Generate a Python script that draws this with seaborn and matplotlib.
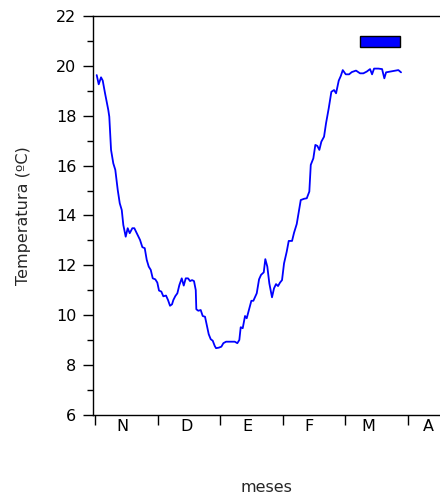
import pandas as pd
import numpy as np
import seaborn as sns
import matplotlib.pyplot as plt
from matplotlib.patches import Patch

# posición en meses desde el 1 de noviembre
mes = [0.027, 0.059, 0.096, 0.123, 0.160, 0.212, 0.228, 0.256, 0.292, 0.324,
       0.363, 0.395, 0.427, 0.452, 0.490, 0.522, 0.554, 0.596, 0.628, 0.666,
       0.719, 0.756, 0.794, 0.826, 0.858, 0.890, 0.922, 0.963, 0.995, 1.022,
       1.059, 1.091, 1.134, 1.166, 1.198, 1.230, 1.251, 1.283, 1.315, 1.347,
       1.385, 1.417, 1.449, 1.486, 1.518, 1.550, 1.581, 1.609, 1.618, 1.650,
       1.688, 1.720, 1.757, 1.784, 1.816, 1.848, 1.880, 1.912, 1.933, 1.976,
       2.018, 2.050, 2.093, 2.184, 2.232, 2.273, 2.305, 2.327, 2.359, 2.396,
       2.423, 2.465, 2.497, 2.529, 2.583, 2.620, 2.652, 2.695, 2.720, 2.752,
       2.784, 2.827, 2.859, 2.891, 2.923, 2.955, 2.987, 3.019, 3.062, 3.094,
       3.147, 3.179, 3.222, 3.286, 3.339, 3.382, 3.423, 3.446, 3.487, 3.519,
       3.551, 3.583, 3.615, 3.658, 3.690, 3.733, 3.775, 3.818, 3.850, 3.893,
       3.925, 3.957, 4.005, 4.058, 4.101, 4.169, 4.233, 4.286, 4.340, 4.393,
       4.425, 4.457, 4.526, 4.585, 4.621, 4.649, 4.740, 4.845, 4.888]

temp = [19.63, 19.26, 19.54, 19.41, 18.90, 18.23, 17.96, 16.63, 16.09, 15.83,
        15.02, 14.49, 14.22, 13.62, 13.15, 13.49, 13.29, 13.49, 13.49, 13.29,
        13.02, 12.73, 12.69, 12.22, 11.95, 11.82, 11.48, 11.44, 11.31, 10.99,
        10.95, 10.76, 10.79, 10.61, 10.38, 10.44, 10.61, 10.77, 10.88, 11.21,
        11.48, 11.19, 11.48, 11.48, 11.37, 11.41, 11.37, 11.01, 10.24, 10.18,
        10.21, 9.97, 9.94, 9.61, 9.24, 9.04, 8.98, 8.77, 8.68, 8.70,
        8.74, 8.88, 8.94, 8.94, 8.94, 8.88, 9.01, 9.52, 9.48, 9.97,
        9.88, 10.28, 10.58, 10.58, 10.88, 11.44, 11.62, 11.72, 12.25, 11.95,
        11.28, 10.72, 11.08, 11.25, 11.17, 11.31, 11.41, 12.08, 12.55, 12.98,
        12.98, 13.31, 13.66, 14.62, 14.67, 14.69, 14.96, 16.03, 16.29, 16.83,
        16.79, 16.63, 16.96, 17.16, 17.70, 18.30, 18.96, 19.03, 18.90, 19.41,
        19.59, 19.83, 19.66, 19.66, 19.75, 19.81, 19.70, 19.70, 19.77, 19.87,
        19.66, 19.89, 19.89, 19.87, 19.50, 19.74, 19.78, 19.83, 19.74]

meses = ['N', 'D', 'E', 'F', 'M', 'A']
pos_etiquetas = [0.43, 1.47, 2.44, 3.42, 4.36, 5.33]

df = pd.DataFrame({'mes': mes, 'temp': temp})

sns.set_style('ticks')
plt.rcParams['font.family'] = ['DejaVu Sans']
fs = 11.5

fig = plt.figure(figsize=(4.4, 4.99), dpi=100)
ax = fig.add_axes([0.2114, 0.1683, 0.79, 0.7997])

sns.lineplot(data=df, x='mes', y='temp', color='#0000ff', linewidth=1.3,
             sort=False, estimator=None, ax=ax)

ax.set_xlim(-0.032, 5.52)
ax.set_ylim(6, 22)

ax.set_yticks(range(6, 23, 2))
ax.set_yticks(range(7, 22, 2), minor=True)
ax.tick_params(axis='y', which='major', length=7, width=1, labelsize=fs,
               color='black', labelcolor='black', pad=5)
ax.tick_params(axis='y', which='minor', length=4, width=1, color='black')

ax.set_xticks(range(0, 6))
ax.set_xticklabels([])
ax.set_xticks(pos_etiquetas, minor=True)
ax.set_xticklabels(meses, minor=True)
ax.tick_params(axis='x', which='major', length=7, width=1, color='black')
ax.tick_params(axis='x', which='minor', length=0, labelsize=fs,
               labelcolor='black', pad=3)

for s in ['left', 'bottom', 'top']:
    ax.spines[s].set_color('black')
    ax.spines[s].set_linewidth(1.0)
ax.spines['right'].set_visible(False)

ax.set_xlabel('meses', fontsize=fs, labelpad=33)
ax.set_ylabel('Temperatura (ºC)', fontsize=fs, labelpad=18)

patch = Patch(facecolor='#0000ff', edgecolor='black', linewidth=1)
ax.legend(handles=[patch], labels=[''], loc='upper left',
          bbox_to_anchor=(0.769, 0.951), frameon=False, borderpad=0,
          borderaxespad=0, handlelength=2.5, handleheight=0.69,
          handletextpad=0, fontsize=fs)

fig.savefig('out.png', dpi=100)
